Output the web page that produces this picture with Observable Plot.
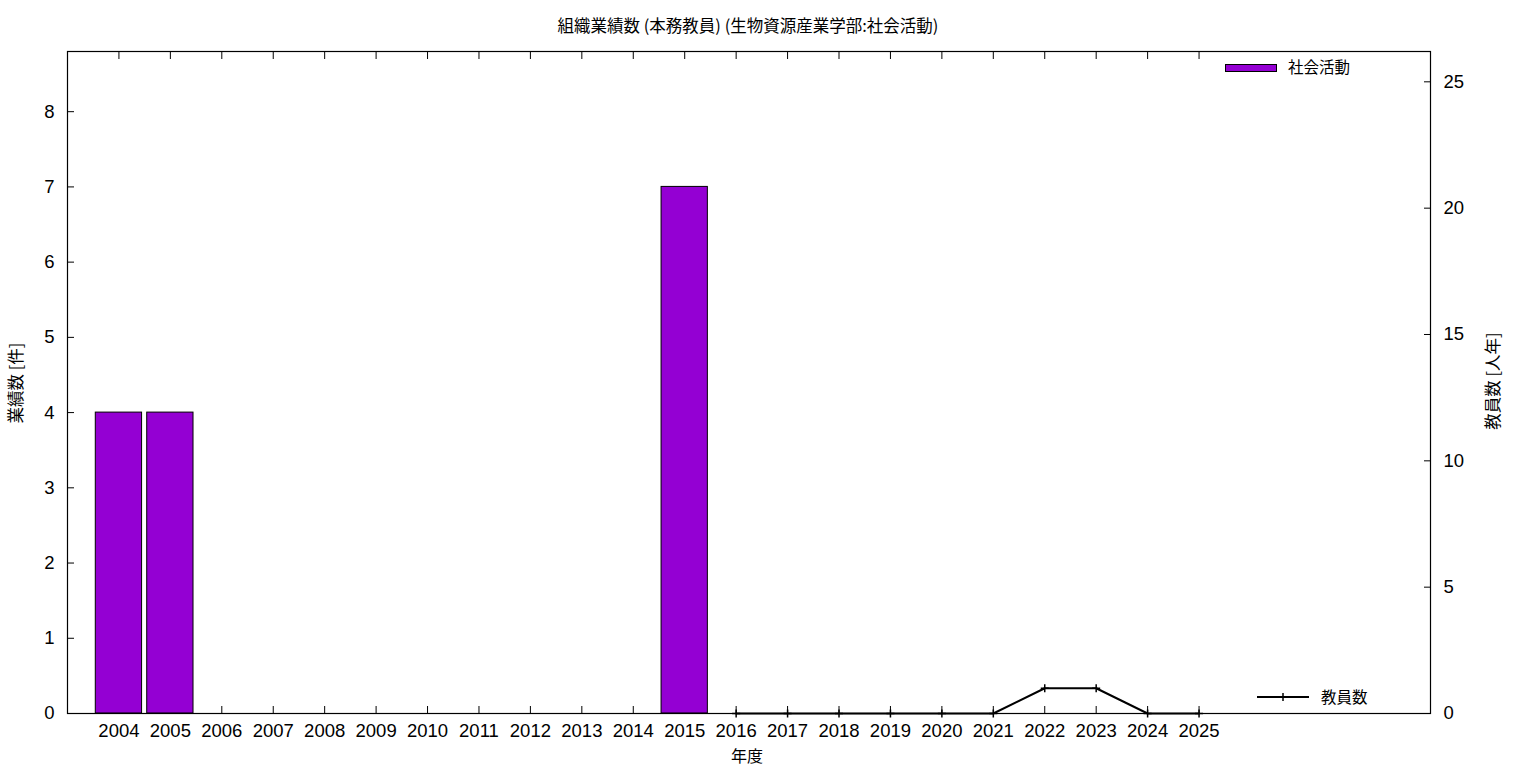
<!DOCTYPE html>
<html><head><meta charset="utf-8">
<script src="https://cdn.jsdelivr.net/npm/d3@7"></script>
<script src="https://cdn.jsdelivr.net/npm/@observablehq/plot@0.6"></script>
<style>
body{margin:0;background:#fff;}
#wrap{position:relative;width:1536px;height:768px;font-family:"Noto Sans CJK JP","Noto Sans",sans-serif;color:#000;}
.t{position:absolute;white-space:nowrap;line-height:1;transform:translate(-50%,-50%);}
.l{position:absolute;white-space:nowrap;line-height:1;transform:translateY(-50%);}
</style></head><body><div id="wrap"></div>
<script>
// ---- data ----
const years = [2004,2005,2006,2007,2008,2009,2010,2011,2012,2013,2014,2015,2016,2017,2018,2019,2020,2021,2022,2023,2024,2025];
const socialActivity = [4,4,0,0,0,0,0,0,0,0,0,7,0,0,0,0,0,0,0,0,0,0];
const staffYears = [2016,2017,2018,2019,2020,2021,2022,2023,2024,2025];
const staffCount = [0,0,0,0,0,0,1,1,0,0];
const leftTicks = [0,1,2,3,4,5,6,7,8];
const rightTicks = [0,5,10,15,20,25];
const titleText = "組織業績数 (本務教員) (生物資源産業学部:社会活動)";
const xLabel = "年度";
const yLabel = "業績数 [件]";
const y2Label = "教員数 [人年]";
const barSeriesName = "社会活動";
const lineSeriesName = "教員数";

// ---- build ----
const yMax = 8.8, y2Max = 26.2;
const k = yMax / y2Max;
const bars = years.map((y, i) => ({year: y, value: socialActivity[i]})).filter(d => d.value > 0);
const staff = staffYears.map((y, i) => ({year: y, value: staffCount[i] * k}));
const rightTicksScaled = rightTicks.map(v => v * k);
const purple = "#9400d3";

const chart = Plot.plot({
  width: 1536, height: 768,
  marginLeft: 67, marginRight: 106, marginTop: 51, marginBottom: 55,
  x: {type: "linear", domain: [2003, 2029.5]},
  y: {domain: [0, yMax]},
  style: {fontFamily: "'Liberation Sans', Arial, sans-serif", fontSize: "18.5px", color: "black", background: "white"},
  marks: [
    Plot.axisX(years, {anchor: "bottom", tickSize: 7, dy: -7, fill: "none", label: null}),
    Plot.axisX(years, {anchor: "top", tickSize: 7, dy: 7, fill: "none", label: null}),
    Plot.axisX(years, {anchor: "bottom", tickSize: 0, tickPadding: 10, tickFormat: d => String(d), label: null}),
    Plot.axisY(leftTicks, {anchor: "left", tickSize: 7, dx: 7, fill: "none", label: null}),
    Plot.axisY(leftTicks, {anchor: "left", tickSize: 0, tickPadding: 13, tickFormat: d => String(d), label: null}),
    Plot.axisY(rightTicksScaled, {anchor: "right", tickSize: 7, dx: -7, fill: "none", label: null}),
    Plot.axisY(rightTicksScaled, {anchor: "right", tickSize: 0, tickPadding: 13, tickFormat: d => String(Math.round(d / k)), label: null}),
    Plot.rectY(bars, {x1: d => d.year - 0.45, x2: d => d.year + 0.45, y: "value", fill: purple, stroke: "black", strokeWidth: 1}),
    Plot.frame({stroke: "black", strokeWidth: 1.2}),
    Plot.line(staff, {x: "year", y: "value", stroke: "black", strokeWidth: 2}),
    Plot.dot(staff, {x: "year", y: "value", symbol: "plus", r: 2.7, stroke: "black", strokeWidth: 1.5})
  ]
});

const wrap = document.getElementById("wrap");
wrap.appendChild(chart);

function addText(cls, txt, x, y, size, extra) {
  const d = document.createElement("div");
  d.className = cls;
  d.textContent = txt;
  d.style.left = x + "px";
  d.style.top = y + "px";
  d.style.fontSize = size + "px";
  if (extra) d.style.transform = extra;
  wrap.appendChild(d);
  return d;
}
addText("t", titleText, 748, 25, 16.5);
addText("t", xLabel, 747, 755, 16);
addText("t", yLabel, 15, 383, 16.5, "translate(-50%,-50%) rotate(-90deg)");
addText("t", y2Label, 1492, 381, 16.5, "translate(-50%,-50%) rotate(-90deg)");

// legends
const leg = d3.select(wrap).append("svg")
  .attr("width", 1536).attr("height", 768)
  .style("position", "absolute").style("left", "0px").style("top", "0px")
  .style("pointer-events", "none");
leg.append("rect").attr("x", 1225.5).attr("y", 64.5).attr("width", 51).attr("height", 7)
  .attr("fill", purple).attr("stroke", "black").attr("stroke-width", 1);
leg.append("line").attr("x1", 1257).attr("x2", 1309).attr("y1", 697).attr("y2", 697)
  .attr("stroke", "black").attr("stroke-width", 2);
leg.append("line").attr("x1", 1283).attr("x2", 1283).attr("y1", 693).attr("y2", 701)
  .attr("stroke", "black").attr("stroke-width", 1.5);
addText("l", barSeriesName, 1288, 67, 15.5);
addText("l", lineSeriesName, 1321, 697, 15.5);
</script>
</body></html>
